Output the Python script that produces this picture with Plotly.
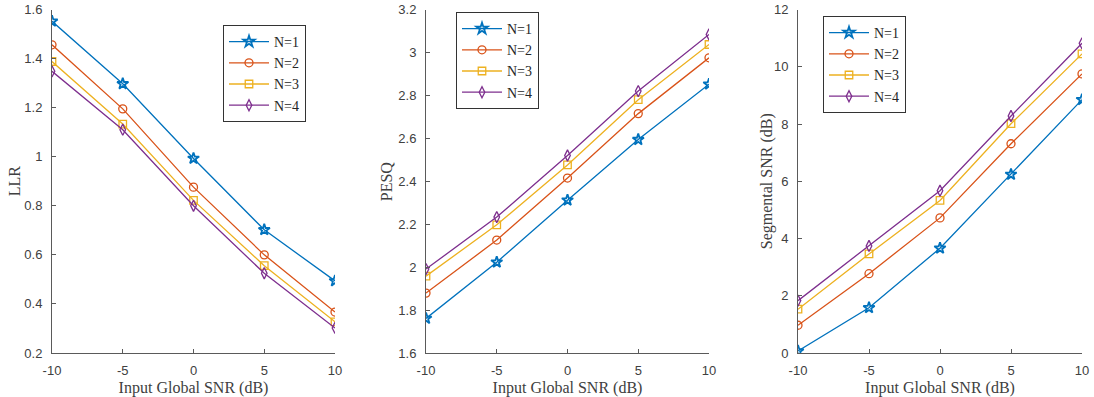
import plotly.graph_objects as go

# Input SNR levels (dB)
snr = [-10, -5, 0, 5, 10]
snr_tick_text = ["-10", "-5", "0", "5", "10"]
series_names = ["N=1", "N=2", "N=3", "N=4"]

# LLR per number of stages
llr_n1 = [1.552, 1.297, 0.993, 0.702, 0.494]
llr_n2 = [1.456, 1.195, 0.876, 0.600, 0.367]
llr_n3 = [1.388, 1.133, 0.822, 0.556, 0.327]
llr_n4 = [1.348, 1.110, 0.800, 0.525, 0.302]

# PESQ per number of stages
pesq_n1 = [1.761, 2.023, 2.312, 2.594, 2.852]
pesq_n2 = [1.879, 2.126, 2.415, 2.715, 2.975]
pesq_n3 = [1.958, 2.197, 2.476, 2.780, 3.037]
pesq_n4 = [1.991, 2.233, 2.520, 2.820, 3.084]

# Segmental SNR (dB) per number of stages
seg_n1 = [0.07, 1.58, 3.66, 6.24, 8.85]
seg_n2 = [0.97, 2.77, 4.72, 7.31, 9.75]
seg_n3 = [1.53, 3.46, 5.33, 8.01, 10.45]
seg_n4 = [1.83, 3.74, 5.67, 8.28, 10.82]

colors = ["#0072BD", "#D95319", "#EDB120", "#7E2F8E"]
symbols = ["star-open", "circle-open", "square-open", "diamond-tall-open"]
msizes = [8.5, 8, 7.5, 8]

W, H = 1094, 397
fig = go.Figure()

panels = [
    dict(data=[llr_n1, llr_n2, llr_n3, llr_n4], title="LLR",
         yr=[0.2, 1.6], dt=0.2, px=(52, 335), ttl_x=14, leg=(223, 25)),
    dict(data=[pesq_n1, pesq_n2, pesq_n3, pesq_n4], title="PESQ",
         yr=[1.6, 3.2], dt=0.2, px=(426, 709), ttl_x=386, leg=(456, 12)),
    dict(data=[seg_n1, seg_n2, seg_n3, seg_n4], title="Segmental SNR (dB)",
         yr=[0, 12], dt=2, px=(798, 1082), ttl_x=767, leg=(823, 16)),
]

top_px, bot_px = 9.5, 353
axis_color = "#5a5a5a"
serif = "Liberation Serif"
tick_font = dict(family="Liberation Sans", size=13, color="#404040")
title_font = dict(family=serif, size=16, color="#404040")
legend_font = dict(family=serif, size=14, color="#262626")

legends = {}
for i, p in enumerate(panels):
    k = "" if i == 0 else str(i + 1)
    legname = "legend" if i == 0 else f"legend{i + 1}"
    for j, ys in enumerate(p["data"]):
        fig.add_trace(go.Scatter(
            x=snr, y=ys, name=series_names[j], mode="lines+markers",
            line=dict(color=colors[j], width=1.3),
            marker=dict(symbol=symbols[j], size=msizes[j], color=colors[j],
                        line=dict(color=colors[j], width=1.8 if j == 0 else 1.3)),
            xaxis="x" + k, yaxis="y" + k, legend=legname,
        ))
    x0, x1 = p["px"]
    fig.layout["xaxis" + k] = dict(
        domain=[x0 / W, x1 / W], range=[-10, 10],
        tickmode="array", tickvals=snr, ticktext=snr_tick_text,
        anchor="y" + k, showline=True, linecolor=axis_color, linewidth=1,
        ticks="inside", ticklen=4, tickcolor=axis_color, showgrid=False,
        zeroline=False, tickfont=tick_font, ticklabelstandoff=5,
        automargin=False,
        title=dict(text="Input Global SNR (dB)", font=title_font, standoff=8),
    )
    fig.layout["yaxis" + k] = dict(
        domain=[1 - bot_px / H, 1 - top_px / H], range=p["yr"], dtick=p["dt"],
        anchor="x" + k, showline=True, linecolor=axis_color, linewidth=1,
        ticks="inside", ticklen=4, tickcolor=axis_color, showgrid=False,
        zeroline=False, tickfont=tick_font, ticklabelstandoff=6,
        automargin=False,
    )
    fig.add_annotation(
        text=p["title"], textangle=-90, font=title_font, showarrow=False,
        xref="paper", yref="paper", x=p["ttl_x"] / W,
        y=1 - ((top_px + bot_px) / 2) / H, xanchor="center", yanchor="middle",
    )
    lx, ly = p["leg"]
    legends[legname] = dict(
        x=lx / W, y=1 - ly / H, xanchor="left", yanchor="top",
        xref="paper", yref="paper",
        bgcolor="white", bordercolor="#333333", borderwidth=1,
        font=legend_font, itemwidth=40, tracegroupgap=0,
        entrywidth=45, entrywidthmode="pixels",
    )

fig.update_layout(
    width=W, height=H, margin=dict(l=0, r=0, t=0, b=0, autoexpand=False),
    paper_bgcolor="white", plot_bgcolor="white", showlegend=True,
    font=dict(family=serif),
    **legends,
)

fig.write_html("out.html")
